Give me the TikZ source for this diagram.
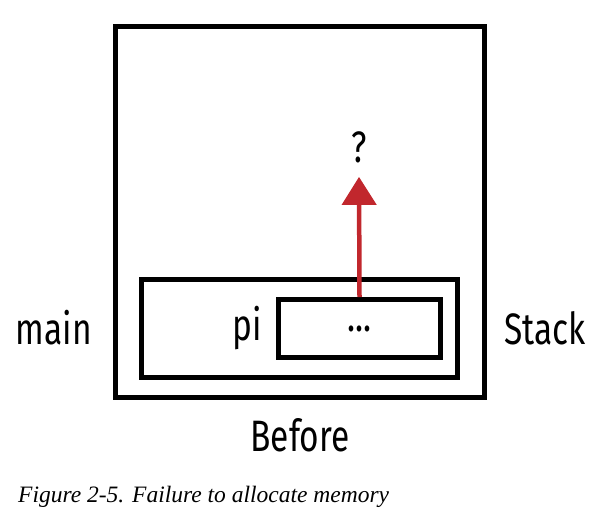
\documentclass[tikz,border=0pt]{standalone}
\usepackage{fontspec}
\setmainfont{Liberation Serif}
\newfontfamily\labelfont[FakeStretch=0.76]{Fira Sans}
\usepackage{xcolor}
\usetikzlibrary{arrows.meta,positioning}
\definecolor{ptrred}{HTML}{C1272D}

\begin{document}
\begin{tikzpicture}[
  x=1pt,y=-1pt,
  box/.style={draw=black,line width=5pt,inner sep=0pt},
  lbl/.style={font=\labelfont\fontsize{44}{48}\selectfont,inner sep=0pt},
  ptr/.style={-{Triangle[length=28pt,width=34pt]},ptrred,line width=4.5pt}
]
  \useasboundingbox (0,0) rectangle (601,520);
  \node[box,minimum width=369pt,minimum height=371pt] (stack) at (300,212) {};
  \node[box,minimum width=316pt,minimum height=98pt] (frame) at (299.5,328.5) {};
  \node[box,minimum width=162pt,minimum height=58pt] (val) at (359.5,328.5) {};
  \node[lbl] at (val) {...};
  \node[lbl,anchor=east] (pi) at (262,328) {pi};
  \node[lbl] (q) at (359,147) {?};
  \node[lbl,anchor=east] (main) at (92,328) {main};
  \node[lbl,anchor=west] (name) at (504,328) {Stack};
  \node[lbl] (before) at (300,435) {Before};
  \node[font=\itshape\fontsize{23.5}{27}\selectfont,anchor=west,inner sep=0pt] (cap) at (18,497) {Figure 2-5. Failure to allocate memory};

  \draw[ptr] (val.north) -- ([yshift=-14pt]q.south);
\end{tikzpicture}
\end{document}
